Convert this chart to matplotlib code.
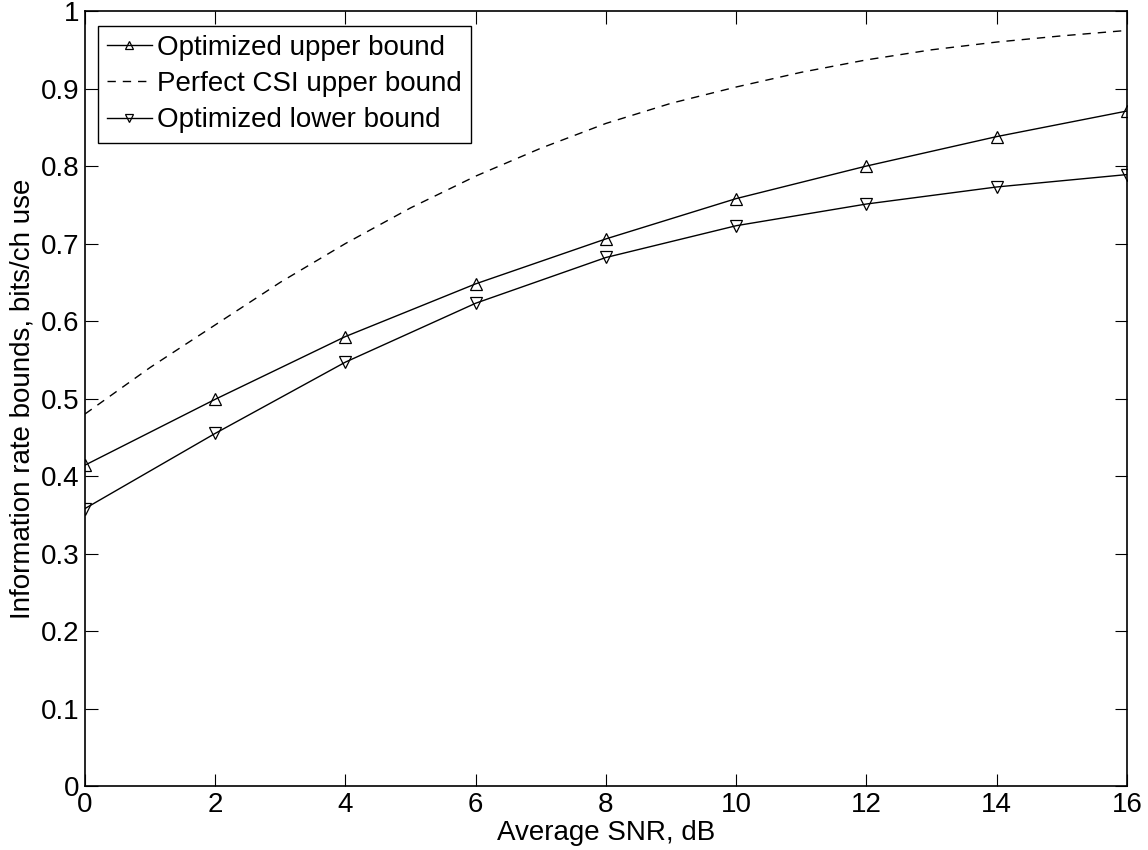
"""
Information rate bounds vs average SNR (MATLAB style figure).
"""

import matplotlib
matplotlib.use('Agg')
import matplotlib.pyplot as plt
import numpy as np

plt.rcParams['font.family'] = ['Liberation Sans', 'DejaVu Sans']
plt.rcParams['font.size'] = 20

# Data
snr = [0, 2, 4, 6, 8, 10, 12, 14, 16]
upper_opt = [0.414, 0.499, 0.580, 0.648, 0.706, 0.758, 0.800, 0.838, 0.871]
lower_opt = [0.358, 0.455, 0.547, 0.623, 0.682, 0.723, 0.751, 0.773, 0.789]

snr_csi = [0, 1, 2, 3, 4, 5, 6, 7, 8, 9, 10, 11, 12, 13, 14, 15, 16]
upper_csi = [0.480, 0.540, 0.595, 0.650, 0.700, 0.746, 0.787, 0.823, 0.855,
             0.881, 0.902, 0.921, 0.937, 0.950, 0.960, 0.968, 0.975]

fig = plt.figure(figsize=(11.48, 8.5), dpi=100)
ax = fig.add_axes([0.074, 0.0753, 0.9077, 0.9117])

ax.plot(snr, upper_opt, color='k', lw=1, marker='^', ms=8, mfc='none',
        mew=0.9, label='Optimized upper bound')
ax.plot(snr_csi, upper_csi, color='k', lw=1, ls=(0, (6, 5)),
        label='Perfect CSI upper bound')
ax.plot(snr, lower_opt, color='k', lw=1, marker='v', ms=8, mfc='none',
        mew=0.9, label='Optimized lower bound')

ax.set_xlim(0, 16)
ax.set_ylim(0, 1)
ax.set_xticks(np.arange(0, 17, 2))
ax.set_yticks(np.arange(0, 1.01, 0.1))
ax.set_yticklabels(['0', '0.1', '0.2', '0.3', '0.4', '0.5', '0.6', '0.7',
                    '0.8', '0.9', '1'])
ax.tick_params(direction='in', length=9, width=0.8, top=True, right=True,
               pad=4)
for s in ax.spines.values():
    s.set_linewidth(1.2)

ax.set_xlabel('Average SNR, dB', labelpad=2)
ax.set_ylabel('Information rate bounds, bits/ch use', labelpad=4)

leg = ax.legend(loc='upper left', bbox_to_anchor=(0.0125, 0.981),
                fancybox=False, edgecolor='k', framealpha=1,
                handlelength=1.6, handletextpad=0.2, borderpad=0.33,
                labelspacing=0.37, borderaxespad=0, markerscale=0.65)
leg.get_frame().set_linewidth(1.0)

fig.savefig('out.png', dpi=100)
